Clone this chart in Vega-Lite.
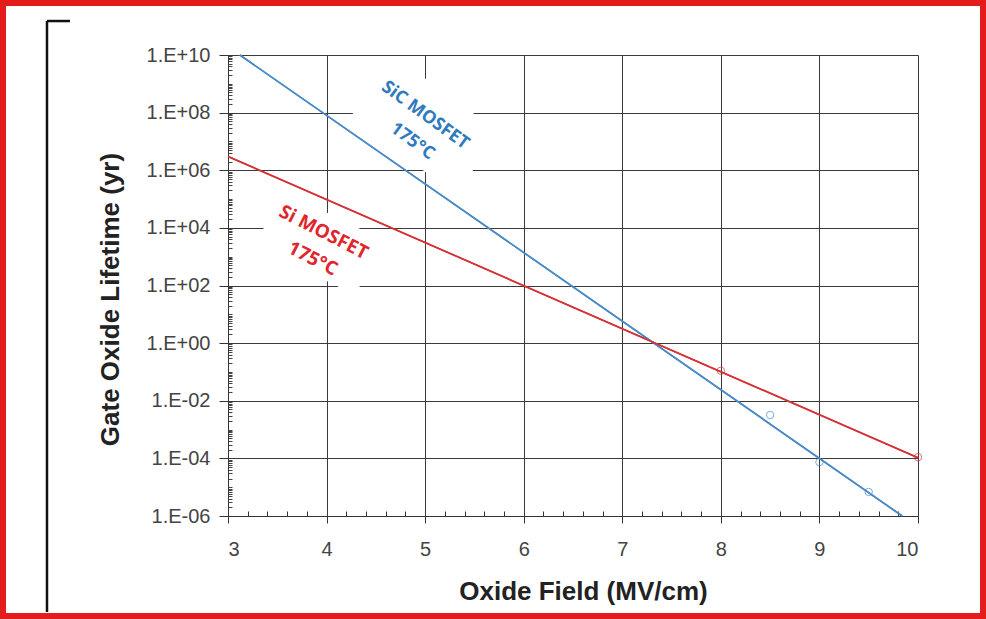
{
  "$schema": "https://vega.github.io/schema/vega-lite/v6.json",
  "autosize": "none",
  "padding": {"left": 228, "top": 55, "right": 68, "bottom": 103},
  "width": 690,
  "height": 461,
  "background": "white",
  "config": {
    "view": {"stroke": null},
    "font": "Liberation Sans",
    "axis": {"labelFont": "Liberation Sans", "titleFont": "Liberation Sans"}
  },
  "datasets": {
    "fits": [
      {"device": "SiC", "field": 3.12, "life": 1e10},
      {"device": "SiC", "field": 9.84, "life": 1e-6},
      {"device": "Si", "field": 3, "life": 3.0e6},
      {"device": "Si", "field": 10, "life": 1.05e-4}
    ],
    "measured": [
      {"device": "Si", "field": 8, "life": 0.11},
      {"device": "Si", "field": 10, "life": 1.1e-4},
      {"device": "SiC", "field": 8.5, "life": 3.2e-3},
      {"device": "SiC", "field": 9, "life": 7.4e-5},
      {"device": "SiC", "field": 9.5, "life": 6.8e-6}
    ],
    "labels": [
      {"device": "SiC", "text": "SiC MOSFET", "field": 5.0, "life": 8.0e7},
      {"device": "SiC", "text": "175°C", "field": 4.87, "life": 1.0e7},
      {"device": "Si", "text": "Si MOSFET", "field": 3.97, "life": 7.0e3},
      {"device": "Si", "text": "175°C", "field": 3.86, "life": 850}
    ],
    "boxes": [
      {"device": "SiC", "field": 5.0, "life": 3.7e7},
      {"device": "Si", "field": 3.92, "life": 3.0e3}
    ]
  },
  "layer": [
    {
      "data": {"name": "fits"},
      "mark": {"type": "line", "strokeWidth": 1.6},
      "encoding": {
        "x": {
          "field": "field", "type": "quantitative",
          "scale": {"domain": [3, 10], "nice": false, "zero": false},
          "axis": {
            "values": [3, 4, 5, 6, 7, 8, 9, 10],
            "format": "d",
            "grid": true, "gridColor": "#3a3a3a", "gridWidth": 1, "gridOpacity": 1,
            "domainColor": "#333333", "domainWidth": 1,
            "tickColor": "#333333", "tickSize": 7, "tickWidth": 1,
            "labelFontSize": 20, "labelColor": "#444444", "labelPadding": 16,
            "title": "Oxide Field (MV/cm)",
            "titleFontSize": 26, "titleFontWeight": "bold", "titleColor": "#222222",
            "titleX": 355, "titleY": 75, "titleAlign": "center", "titleBaseline": "middle"
          }
        },
        "y": {
          "field": "life", "type": "quantitative",
          "scale": {"type": "log", "domain": [1e-6, 1e10], "nice": false},
          "axis": {
            "values": [1e-6, 1e-4, 1e-2, 1, 1e2, 1e4, 1e6, 1e8, 1e10],
            "labelExpr": "'1.E' + (round(log(datum.value)/LN10) < 0 ? '-' : '+') + (abs(round(log(datum.value)/LN10)) < 10 ? '0' : '') + abs(round(log(datum.value)/LN10))",
            "grid": true, "gridColor": "#3a3a3a", "gridWidth": 1, "gridOpacity": 1,
            "domainColor": "#333333", "domainWidth": 1,
            "tickColor": "#333333", "tickSize": 9, "tickWidth": 1,
            "labelFontSize": 20, "labelColor": "#444444", "labelPadding": 9,
            "title": "Gate Oxide Lifetime (yr)",
            "titleFontSize": 26, "titleFontWeight": "bold", "titleColor": "#222222",
            "titleAngle": -90, "titleX": -118, "titleY": 244, "titleAlign": "center", "titleBaseline": "middle"
          }
        },
        "color": {"field": "device", "type": "nominal", "scale": {"domain": ["SiC", "Si"], "range": ["#4a8ac6", "#d63236"]}, "legend": null},
        "detail": {"field": "device"}
      }
    },
    {
      "data": {"name": "boxes"},
      "transform": [{"filter": "datum.device == 'SiC'"}],
      "mark": {"type": "point", "shape": "M-1,-0.58H1V0.58H-1Z", "angle": 36, "size": 17000, "filled": true, "fill": "white", "fillOpacity": 1, "stroke": null, "opacity": 1},
      "encoding": {
        "x": {"field": "field", "type": "quantitative", "axis": null},
        "y": {"field": "life", "type": "quantitative", "axis": null}
      }
    },
    {
      "data": {"name": "boxes"},
      "transform": [{"filter": "datum.device == 'Si'"}],
      "mark": {"type": "point", "shape": "M-1,-0.55H1V0.55H-1Z", "angle": 26, "size": 12500, "filled": true, "fill": "white", "fillOpacity": 1, "stroke": null, "opacity": 1},
      "encoding": {
        "x": {"field": "field", "type": "quantitative", "axis": null},
        "y": {"field": "life", "type": "quantitative", "axis": null}
      }
    },
    {
      "data": {"name": "fits"},
      "mark": {"type": "line", "strokeWidth": 1.6},
      "encoding": {
        "x": {"field": "field", "type": "quantitative", "axis": null},
        "y": {"field": "life", "type": "quantitative", "axis": null},
        "color": {"field": "device", "type": "nominal", "legend": null},
        "detail": {"field": "device"}
      }
    },
    {
      "data": {"name": "measured"},
      "mark": {"type": "point", "filled": false, "size": 55, "strokeWidth": 1},
      "encoding": {
        "x": {
          "field": "field", "type": "quantitative",
          "axis": {
            "orient": "bottom",
            "values": [3.2, 3.4, 3.6, 3.8, 4.2, 4.4, 4.6, 4.8, 5.2, 5.4, 5.6, 5.8, 6.2, 6.4, 6.6, 6.8, 7.2, 7.4, 7.6, 7.8, 8.2, 8.4, 8.6, 8.8, 9.2, 9.4, 9.6, 9.8],
            "labels": false, "domain": false, "grid": false,
            "tickColor": "#333333", "tickSize": -5, "tickWidth": 1, "title": null
          }
        },
        "y": {
          "field": "life", "type": "quantitative",
          "axis": {
            "orient": "left",
            "values": [2e-6, 3e-6, 4e-6, 5e-6, 6e-6, 7e-6, 8e-6, 9e-6, 1e-5, 2e-5, 3e-5, 4e-5, 5e-5, 6e-5, 7e-5, 8e-5, 9e-5, 2e-4, 3e-4, 4e-4, 5e-4, 6e-4, 7e-4, 8e-4, 9e-4, 1e-3, 2e-3, 3e-3, 4e-3, 5e-3, 6e-3, 7e-3, 8e-3, 9e-3, 2e-2, 3e-2, 4e-2, 5e-2, 6e-2, 7e-2, 8e-2, 9e-2, 1e-1, 2e-1, 3e-1, 4e-1, 5e-1, 6e-1, 7e-1, 8e-1, 9e-1, 2, 3, 4, 5, 6, 7, 8, 9, 10, 20, 30, 40, 50, 60, 70, 80, 90, 200, 300, 400, 500, 600, 700, 800, 900, 1000, 2000, 3000, 4000, 5000, 6000, 7000, 8000, 9000, 2e4, 3e4, 4e4, 5e4, 6e4, 7e4, 8e4, 9e4, 1e5, 2e5, 3e5, 4e5, 5e5, 6e5, 7e5, 8e5, 9e5, 2e6, 3e6, 4e6, 5e6, 6e6, 7e6, 8e6, 9e6, 1e7, 2e7, 3e7, 4e7, 5e7, 6e7, 7e7, 8e7, 9e7, 2e8, 3e8, 4e8, 5e8, 6e8, 7e8, 8e8, 9e8, 1e9, 2e9, 3e9, 4e9, 5e9, 6e9, 7e9, 8e9, 9e9],
            "labels": false, "domain": false, "grid": false,
            "tickColor": "#444444", "tickSize": -4, "tickWidth": 1, "title": null
          }
        },
        "color": {"field": "device", "type": "nominal", "legend": null}
      }
    },
    {
      "data": {"name": "labels"},
      "transform": [{"filter": "datum.device == 'SiC'"}],
      "mark": {"type": "text", "angle": 36, "font": "Open Sans", "fontSize": 18, "fontWeight": "bold", "fill": "#2f7bbd"},
      "encoding": {
        "x": {"field": "field", "type": "quantitative", "axis": null},
        "y": {"field": "life", "type": "quantitative", "axis": null},
        "text": {"field": "text"}
      }
    },
    {
      "data": {"name": "labels"},
      "transform": [{"filter": "datum.device == 'Si'"}],
      "mark": {"type": "text", "angle": 27, "font": "Open Sans", "fontSize": 19, "fontWeight": "bold", "fill": "#e0262c"},
      "encoding": {
        "x": {"field": "field", "type": "quantitative", "axis": null},
        "y": {"field": "life", "type": "quantitative", "axis": null},
        "text": {"field": "text"}
      }
    },
    {
      "data": {"values": [{}]},
      "mark": {"type": "rect", "fillOpacity": 0, "stroke": "#e41c1c", "strokeWidth": 6, "clip": false},
      "encoding": {
        "x": {"datum": 0.7174, "type": "quantitative", "axis": null},
        "x2": {"datum": 10.6594},
        "y": {"datum": 6.38e11, "type": "quantitative", "axis": null},
        "y2": {"datum": 3.38e-10}
      }
    },
    {
      "data": {"values": [{}]},
      "mark": {"type": "rule", "color": "#111111", "strokeWidth": 2.5, "clip": false},
      "encoding": {
        "x": {"datum": 1.1637, "type": "quantitative", "axis": null},
        "y": {"datum": 1.51e11, "type": "quantitative", "axis": null},
        "y2": {"datum": 4.66e-10}
      }
    },
    {
      "data": {"values": [{}]},
      "mark": {"type": "rule", "color": "#111111", "strokeWidth": 2.5, "clip": false},
      "encoding": {
        "x": {"datum": 1.1637, "type": "quantitative", "axis": null},
        "x2": {"datum": 1.3971},
        "y": {"datum": 1.51e11, "type": "quantitative", "axis": null}
      }
    }
  ],
  "resolve": {"axis": {"x": "independent", "y": "independent"}}
}
